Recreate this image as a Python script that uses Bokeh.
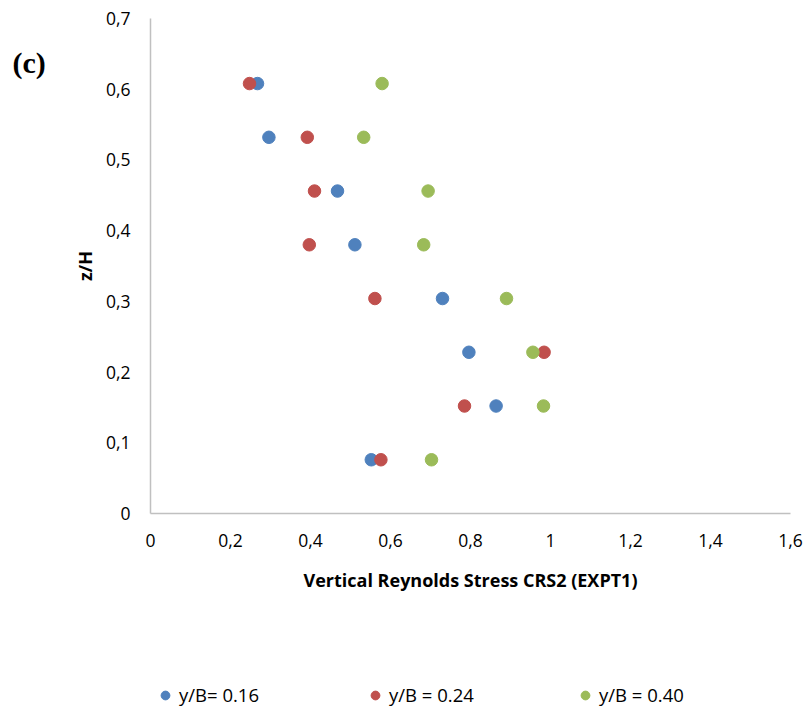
from bokeh.plotting import figure
from bokeh.models import (Range1d, FixedTicker, CustomJSTickFormatter, Legend,
                          LegendItem, Label)
from bokeh.embed import file_html
from bokeh.resources import INLINE

# Relative depth levels z/H
z_over_h = [0.076, 0.152, 0.228, 0.304, 0.380, 0.456, 0.532, 0.608]

# Vertical Reynolds stress (CRS2, EXPT1) at three lateral positions
stress_016 = [0.552, 0.864, 0.796, 0.730, 0.511, 0.4675, 0.296, 0.2675]
stress_024 = [0.576, 0.785, 0.984, 0.561, 0.397, 0.410, 0.392, 0.2475]
stress_040 = [0.7025, 0.9825, 0.956, 0.890, 0.683, 0.694, 0.533, 0.579]

series_labels = ["y/B= 0.16", "y/B = 0.24", "y/B = 0.40"]
series_colors = ["#4F81BD", "#C0504D", "#9BBB59"]

x_ticks = [0, 0.2, 0.4, 0.6, 0.8, 1.0, 1.2, 1.4, 1.6]
y_ticks = [0, 0.1, 0.2, 0.3, 0.4, 0.5, 0.6, 0.7]
x_lim = (0, 1.6)
y_lim = (0, 0.7)

FONT = "Open Sans"

# Canvas geometry: the plotting area is inset inside the canvas; the frame
# fills the whole canvas and the axes are pinned at zero so that the
# panel label and the legend can live in the outer margin.
W, H = 810, 711
LEFT, RIGHT, TOP, BOTTOM = 150, 20, 18, 198
sx = (W - LEFT - RIGHT) / (x_lim[1] - x_lim[0])
sy = (H - TOP - BOTTOM) / (y_lim[1] - y_lim[0])
x_range = Range1d(x_lim[0] - LEFT / sx, x_lim[1] + RIGHT / sx)
y_range = Range1d(y_lim[0] - BOTTOM / sy, y_lim[1] + TOP / sy)

p = figure(width=W, height=H, output_backend="svg", toolbar_location=None,
           x_range=x_range, y_range=y_range, min_border=0)
p.outline_line_color = None
p.grid.visible = False
p.background_fill_color = "white"
p.border_fill_color = "white"

comma_fmt = CustomJSTickFormatter(code="""
    const s = (Math.round(tick * 10) / 10).toString();
    return s.replace('.', ',');
""")

for ax, ticks, lim in ((p.xaxis[0], x_ticks, x_lim), (p.yaxis[0], y_ticks, y_lim)):
    ax.fixed_location = 0
    ax.bounds = lim
    ax.ticker = FixedTicker(ticks=ticks)
    ax.formatter = comma_fmt
    ax.axis_line_color = "#C0C0C0"
    ax.axis_line_width = 1.5
    ax.major_tick_line_color = None
    ax.minor_tick_line_color = None
    ax.major_tick_out = 0
    ax.major_tick_in = 0
    ax.major_label_text_font = FONT
    ax.major_label_text_font_size = "17.5px"
    ax.major_label_text_color = "#000000"
    ax.axis_label_text_font = FONT
    ax.axis_label_text_font_size = "18px"
    ax.axis_label_text_font_style = "bold"
    ax.axis_label_text_color = "#000000"

p.xaxis.major_label_standoff = 20
p.yaxis.major_label_standoff = 20
p.xaxis.axis_label = "Vertical Reynolds Stress CRS2 (EXPT1)"
p.yaxis.axis_label = "z/H"
p.xaxis.axis_label_standoff = 18
p.yaxis.axis_label_standoff = 6

renderers = []
for vals, color in zip((stress_016, stress_024, stress_040), series_colors):
    r = p.scatter(vals, z_over_h, size=12.5, fill_color=color, line_color=color)
    renderers.append(r)

legend = Legend(
    items=[LegendItem(label=lab, renderers=[r]) for lab, r in zip(series_labels, renderers)],
    orientation="horizontal",
    location=(154, 4),
    glyph_width=22, glyph_height=24,
    label_standoff=3,
    label_width=185,
    spacing=0,
    padding=0, margin=0,
    border_line_color=None,
    background_fill_alpha=0,
    label_text_font=FONT,
    label_text_font_size="18.5px",
    label_text_color="#000000",
)
p.add_layout(legend, "center")

p.add_layout(Label(x=12, y=H - 62, x_units="screen", y_units="screen",
                   text="(c)", text_font="Liberation Serif", text_font_style="bold",
                   text_font_size="30px", text_baseline="middle", text_color="#000000"))

open("out.html", "w").write(file_html(p, INLINE))
